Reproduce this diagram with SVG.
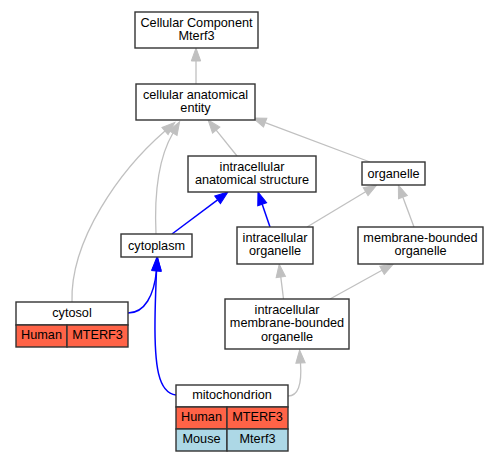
<svg xmlns="http://www.w3.org/2000/svg" width="497" height="461" viewBox="0 0 497 461">
<defs>
<style>
.n rect{fill:#fff;stroke:#333;stroke-width:1.4}
.n rect.h{fill:#ff6347}
.n rect.m{fill:#add8e6}
text{font-family:"Liberation Sans",Arial,sans-serif;font-size:12.7px;fill:#000;text-anchor:middle}
.g{fill:none;stroke:#c0c0c0;stroke-width:1.3}
.b{fill:none;stroke:#0000ff;stroke-width:1.5}
.g{marker-end:url(#ag)}
.b{marker-end:url(#ab)}
</style>
<marker id="ag" markerUnits="userSpaceOnUse" markerWidth="16" markerHeight="12" refX="0" refY="6" orient="auto" overflow="visible">
<path d="M0,1.3 L13,6 L0,10.7 Z" fill="#c0c0c0" stroke="#c0c0c0" stroke-width="1"/>
</marker>
<marker id="ab" markerUnits="userSpaceOnUse" markerWidth="16" markerHeight="12" refX="0" refY="6" orient="auto" overflow="visible">
<path d="M0,1.3 L13,6 L0,10.7 Z" fill="#0000ff" stroke="#0000ff" stroke-width="1"/>
</marker>
</defs>
<rect width="497" height="461" fill="#fff"/>
<g id="edges">
<path class="g" d="M196,84 L196,61"/>
<path class="g" d="M237,156 L216.2,130.1"/>
<path class="g" d="M370,162 L265.2,122.6"/>
<path class="g" d="M72,302 C70,240 120,170 165,131"/>
<path class="g" d="M156,234 C154,190 160,155 173,133"/>
<path class="b" d="M172,234 L217.6,199.8"/>
<path class="b" d="M270,227 L262.2,204.3"/>
<path class="g" d="M307,227 L365.6,191.7"/>
<path class="g" d="M414,227 L402.9,197.2"/>
<path class="g" d="M283.5,299 L280.8,277"/>
<path class="g" d="M330,299 L382,270.3"/>
<path class="g" d="M288,396 C298,396 302,385 300.5,363"/>
<path class="b" d="M176,395 C158,393 154.5,365 155,320 C155.2,300 156,285 156.5,270"/>
<path class="b" d="M128,313 C145,313 154,295 156.5,271"/>
</g>
<g id="cc" class="n"><rect x="135" y="12" width="123" height="36"/><text x="196.5" y="26.6">Cellular Component</text><text x="196.5" y="39.6">Mterf3</text></g>
<g id="cae" class="n"><rect x="136" y="84" width="119" height="36"/><text x="195.5" y="98.6">cellular anatomical</text><text x="195.5" y="111.6">entity</text></g>
<g id="ias" class="n"><rect x="188" y="156" width="128" height="36"/><text x="252" y="170.6">intracellular</text><text x="252" y="183.6">anatomical structure</text></g>
<g id="organelle" class="n"><rect x="362" y="162" width="63" height="23"/><text x="393.5" y="177.5">organelle</text></g>
<g id="io" class="n"><rect x="237" y="227" width="76" height="37"/><text x="275" y="241.6">intracellular</text><text x="275" y="255">organelle</text></g>
<g id="mbo" class="n"><rect x="358" y="227" width="125" height="37"/><text x="420.5" y="241.6">membrane-bounded</text><text x="420.5" y="255">organelle</text></g>
<g id="imbo" class="n"><rect x="225" y="299" width="124" height="50"/><text x="287" y="313.6">intracellular</text><text x="287" y="327">membrane-bounded</text><text x="287" y="340.5">organelle</text></g>
<g id="cytoplasm" class="n"><rect x="121" y="234" width="71" height="23"/><text x="156.5" y="249.5">cytoplasm</text></g>
<g id="cytosol" class="n"><rect x="16" y="302" width="112" height="23"/><rect class="h" x="16" y="325" width="51" height="22"/><rect class="h" x="67" y="325" width="61" height="22"/><text x="72" y="317">cytosol</text><text x="41.5" y="339.2">Human</text><text x="97.5" y="339.2">MTERF3</text></g>
<g id="mitochondrion" class="n"><rect x="176" y="385" width="112" height="22"/><rect class="h" x="176" y="407" width="51" height="22"/><rect class="h" x="227" y="407" width="61" height="22"/><rect class="m" x="176" y="429" width="51" height="22"/><rect class="m" x="227" y="429" width="61" height="22"/><text x="232" y="399.2">mitochondrion</text><text x="201.5" y="421.2">Human</text><text x="257.5" y="421.2">MTERF3</text><text x="201.5" y="443.4">Mouse</text><text x="257.5" y="443.4">Mterf3</text></g>
</svg>
